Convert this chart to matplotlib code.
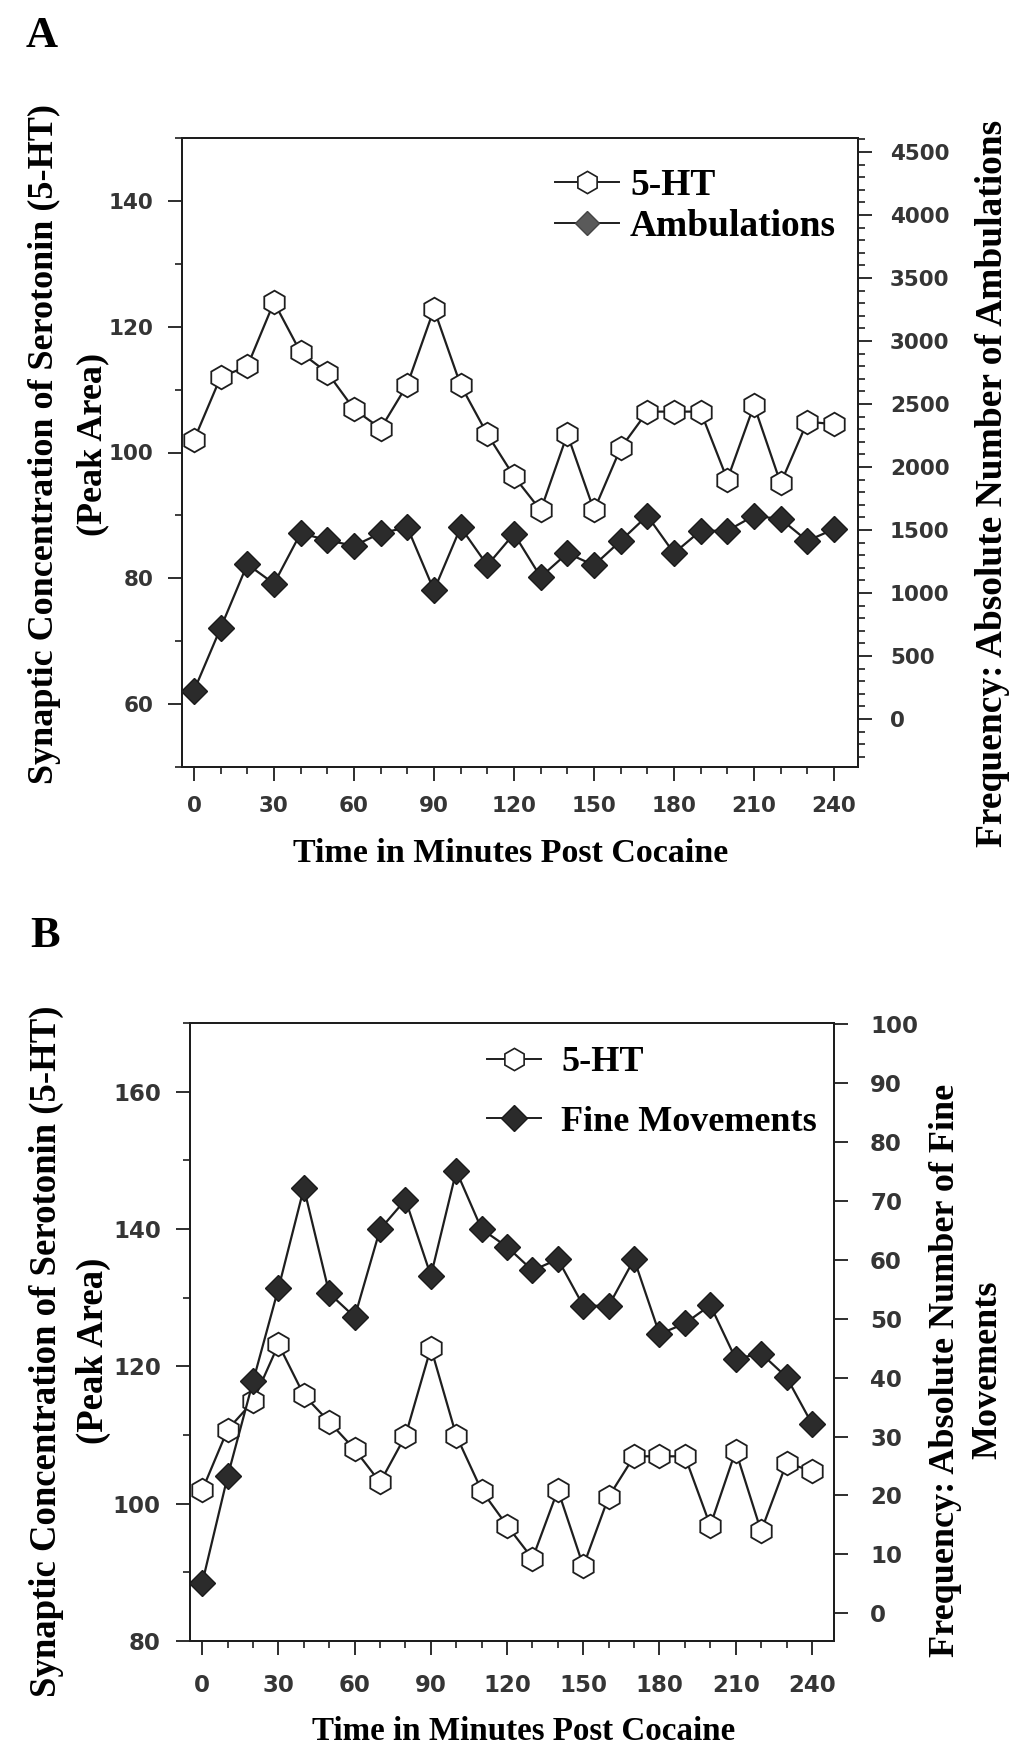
import matplotlib
matplotlib.use("Agg")
import matplotlib.pyplot as plt
from matplotlib.lines import Line2D
from matplotlib.ticker import MultipleLocator

# ---------------- data ----------------
time_min = [0, 10, 20, 30, 40, 50, 60, 70, 80, 90, 100, 110, 120,
            130, 140, 150, 160, 170, 180, 190, 200, 210, 220, 230, 240]

a_serotonin = [102, 112, 113.7, 123.9, 115.9, 112.7, 106.9, 103.8, 110.8, 122.8,
               110.7, 102.9, 96.2, 90.8, 102.9, 90.8, 100.7, 106.5, 106.5, 106.5,
               95.7, 107.5, 95.1, 104.9, 104.5]
a_ambulations = [225, 723, 1228, 1074, 1475, 1419, 1374, 1475, 1521, 1021,
                 1521, 1220, 1470, 1127, 1316, 1220, 1414, 1613, 1316, 1494,
                 1494, 1613, 1587, 1414, 1507]

b_serotonin = [102.0, 110.8, 114.9, 123.2, 115.8, 111.9, 107.9, 103.1, 109.9, 122.7,
               109.9, 101.9, 96.8, 92.0, 102.0, 90.9, 101.0, 106.9, 106.9, 106.9,
               96.8, 107.7, 96.0, 105.9, 104.8]
b_fine_movements = [5.2, 23.3, 39.4, 55.2, 72.2, 54.3, 50.3, 65.2, 70.2, 57.3,
                    75.1, 65.2, 62.2, 58.2, 60.1, 52.2, 52.2, 60.1, 47.4, 49.2,
                    52.3, 43.2, 44.1, 40.1, 32.2]

x_ticks = [0, 30, 60, 90, 120, 150, 180, 210, 240]

W, H = 1024, 1763
fig = plt.figure(figsize=(W / 100, H / 100), dpi=100)
fig.patch.set_facecolor("white")

SERIF = ["Liberation Serif", "DejaVu Serif"]
TICKFONT = ["DejaVu Sans"]
INK = "#1e1e1e"
TICKC = "#353535"


def rect(left, top, right, bottom):
    return [left / W, 1 - bottom / H, (right - left) / W, (bottom - top) / H]


def style_axes(ax, ax2, tick_size, lpad, rpad, xpad, right_minor):
    for a in (ax, ax2):
        for s in a.spines.values():
            s.set_linewidth(1.4)
            s.set_color(INK)
    ax.set_xticks(x_ticks)
    ax.xaxis.set_minor_locator(MultipleLocator(10))
    ax.tick_params(axis="both", which="major", direction="out", length=10,
                   width=1.3, color=INK, labelsize=tick_size, labelcolor=TICKC)
    ax.tick_params(axis="both", which="minor", direction="out", length=5,
                   width=1.2, color=INK)
    ax.tick_params(axis="y", which="major", pad=lpad)
    ax.tick_params(axis="x", which="major", pad=xpad)
    ax2.tick_params(axis="y", which="major", direction="out", length=10,
                    width=1.3, color=INK, labelsize=tick_size,
                    labelcolor=TICKC, pad=rpad)
    ax2.tick_params(axis="y", which="minor", direction="out", length=5,
                    width=1.2, color=INK)
    if not right_minor:
        ax2.yaxis.set_minor_locator(matplotlib.ticker.NullLocator())
    for lab in ax.get_xticklabels() + ax.get_yticklabels() + ax2.get_yticklabels():
        lab.set_fontfamily(TICKFONT)
        lab.set_fontweight("bold")


def hex_line(ax, y):
    ax.plot(time_min, y, color=INK, lw=1.6, marker="h", ms=17,
            mfc="white", mec=INK, mew=1.3, zorder=3)


def dia_line(ax, y):
    ax.plot(time_min, y, color=INK, lw=1.6, marker="D", ms=13.5,
            mfc="#2b2b2b", mec="#1a1a1a", mew=1.0, zorder=3)


# ---------------- Panel A ----------------
axA = fig.add_axes(rect(182, 138, 858, 767))
axA2 = axA.twinx()
hex_line(axA, a_serotonin)
dia_line(axA2, a_ambulations)
axA.set_xlim(-4.5, 249)
axA.set_ylim(50, 150)
axA.set_yticks([60, 80, 100, 120, 140])
axA.yaxis.set_minor_locator(MultipleLocator(10))
axA2.set_ylim(-381, 4611)
axA2.set_yticks(list(range(0, 4501, 500)))
axA2.yaxis.set_minor_locator(MultipleLocator(100))
style_axes(axA, axA2, 15.5, 10.5, 13, 11, True)

handlesA = [
    Line2D([], [], color=INK, lw=1.4, marker="h", ms=16, mfc="white", mec=INK, mew=1.2),
    Line2D([], [], color=INK, lw=1.4, marker="D", ms=12, mfc="#5a5a5a", mec="#444444"),
]
legA = axA2.legend(handlesA, ["5-HT", "Ambulations"], loc="upper left",
                   bbox_to_anchor=(555 / W, 1 - 168 / H), bbox_transform=fig.transFigure,
                   frameon=False, borderpad=0, borderaxespad=0, handlelength=1.7,
                   handletextpad=0.3, labelspacing=0.15,
                   prop={"family": SERIF, "weight": "bold", "size": 27})

fig.text(42 / W, 1 - 36 / H, "A", family=SERIF, weight="bold", size=32,
         ha="center", va="center", color="black")
fig.text(44 / W, 1 - 444 / H, "Synaptic Concentration of Serotonin (5-HT)",
         family=SERIF, weight="bold", size=26, rotation=90, ha="center", va="center")
fig.text(93 / W, 1 - 444 / H, "(Peak Area)",
         family=SERIF, weight="bold", size=26, rotation=90, ha="center", va="center")
fig.text(992 / W, 1 - 483 / H, "Frequency: Absolute Number of Ambulations",
         family=SERIF, weight="bold", size=27, rotation=90, ha="center", va="center")
fig.text(511 / W, 1 - 853 / H, "Time in Minutes Post Cocaine",
         family=SERIF, weight="bold", size=24.5, ha="center", va="center")

# ---------------- Panel B ----------------
axB = fig.add_axes(rect(190, 1023, 834, 1641))
axB2 = axB.twinx()
hex_line(axB, b_serotonin)
dia_line(axB2, b_fine_movements)
axB.set_xlim(-4.84, 248.7)
axB.set_ylim(80, 170)
axB.set_yticks([80, 100, 120, 140, 160])
axB.yaxis.set_minor_locator(MultipleLocator(10))
axB2.set_ylim(-4.7, 100.2)
axB2.set_yticks(list(range(0, 101, 10)))
style_axes(axB, axB2, 16.5, 11, 16, 14, False)

handlesB = [
    Line2D([], [], color=INK, lw=1.4, marker="h", ms=16, mfc="white", mec=INK, mew=1.2),
    Line2D([], [], color=INK, lw=1.4, marker="D", ms=13, mfc="#2b2b2b", mec="#1a1a1a"),
]
legB = axB2.legend(handlesB, ["5-HT", "Fine Movements"], loc="upper left",
                   bbox_to_anchor=(487 / W, 1 - 1046 / H), bbox_transform=fig.transFigure,
                   frameon=False, borderpad=0, borderaxespad=0, handlelength=1.5,
                   handletextpad=0.55, labelspacing=0.73,
                   prop={"family": SERIF, "weight": "bold", "size": 26})

fig.text(45 / W, 1 - 936 / H, "B", family=SERIF, weight="bold", size=32,
         ha="center", va="center", color="black")
fig.text(46 / W, 1 - 1351 / H, "Synaptic Concentration of Serotonin (5-HT)",
         family=SERIF, weight="bold", size=26.5, rotation=90, ha="center", va="center")
fig.text(93 / W, 1 - 1351 / H, "(Peak Area)",
         family=SERIF, weight="bold", size=26.5, rotation=90, ha="center", va="center")
fig.text(945 / W, 1 - 1370 / H, "Frequency: Absolute Number of Fine",
         family=SERIF, weight="bold", size=26, rotation=90, ha="center", va="center")
fig.text(988 / W, 1 - 1370 / H, "Movements",
         family=SERIF, weight="bold", size=26, rotation=90, ha="center", va="center")
fig.text(524 / W, 1 - 1731 / H, "Time in Minutes Post Cocaine",
         family=SERIF, weight="bold", size=23.8, ha="center", va="center")

fig.savefig("out.png", dpi=100, facecolor="white")
